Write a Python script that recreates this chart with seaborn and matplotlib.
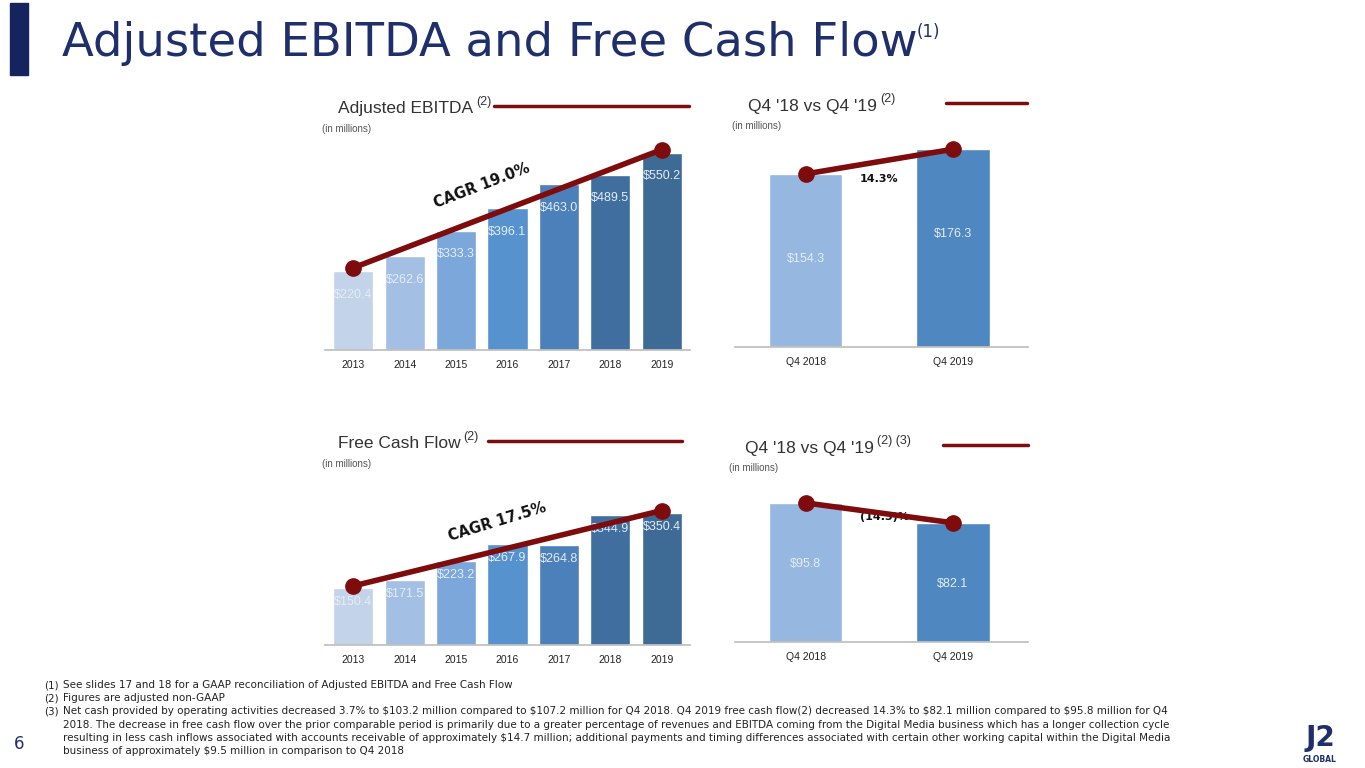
import matplotlib
matplotlib.use("Agg")
import matplotlib.pyplot as plt
import seaborn as sns
from matplotlib.lines import Line2D
from matplotlib.patches import Rectangle

years = ["2013", "2014", "2015", "2016", "2017", "2018", "2019"]
ebitda = [220.4, 262.6, 333.3, 396.1, 463.0, 489.5, 550.2]
fcf = [150.4, 171.5, 223.2, 267.9, 264.8, 344.9, 350.4]
quarters = ["Q4 2018", "Q4 2019"]
q_ebitda = [154.3, 176.3]
q_fcf = [95.8, 82.1]

year_colors = ["#C3D3EA", "#A3C0E4", "#7BA7DA", "#5592CE", "#4C80BA", "#3F6E9F", "#3E6A96"]
q_colors = ["#95B7E0", "#4F87C0"]
red = "#7F0C0C"
navy = "#1F2F6B"

sns.set_theme(style="white")
plt.rcParams["font.family"] = ["DejaVu Sans"]

W, H = 1365, 768
fig = plt.figure(figsize=(13.65, 7.68), dpi=100)


def px_axes(x0, y0, x1, y1):
    return fig.add_axes([x0 / W, 1 - y1 / H, (x1 - x0) / W, (y1 - y0) / H])


def bar_panel(ax, cats, vals, colors, ymax, label_dy, width, xlim, off):
    sns.barplot(x=cats, y=vals, hue=cats, palette=colors, legend=False, ax=ax, width=width, saturation=1)
    ax.set_ylim(0, ymax)
    ax.set_xlim(*xlim)
    ax.set_yticks([])
    ax.set_xlabel("")
    ax.set_ylabel("")
    for s in ["top", "right", "left"]:
        ax.spines[s].set_visible(False)
    ax.spines["bottom"].set_color("#BFBFBF")
    ax.tick_params(axis="x", length=0, labelsize=7.5, pad=7, colors="#222222")
    for lbl in ax.get_xticklabels():
        lbl.set_fontfamily("Liberation Sans")
    for i, v in enumerate(vals):
        ax.text(i, v - ymax * label_dy, f"${v:.1f}", ha="center", va="center",
                color="#E4ECF6", fontsize=9, family="Liberation Sans")
    o = ymax * off
    ax.plot([0, len(vals) - 1], [vals[0] + o, vals[-1] + o], color=red, lw=4,
            marker="o", ms=11, solid_capstyle="round", clip_on=False, zorder=5)


# header
fig.patches.append(Rectangle((10 / W, 1 - 75 / H), 18 / W, 72 / H, transform=fig.transFigure,
                             color="#15245E"))
fig.text(62 / W, 1 - 44 / H, "Adjusted EBITDA and Free Cash Flow", fontsize=33.5, color=navy,
         va="center", ha="left")
fig.text(917 / W, 1 - 32 / H, "(1)", fontsize=12, color=navy, va="center")


def panel_title(x, y, text, sup, x_line0, x_line1, ysup=-7):
    t = fig.text(x / W, 1 - y / H, text, fontsize=12.5, color="#333333", va="center",
                 family="Liberation Sans")
    fig.canvas.draw()
    bb = t.get_window_extent()
    fig.text((bb.x1 + 3) / W, 1 - (y + ysup) / H, sup, fontsize=9, color="#333333", va="center",
             family="Liberation Sans")
    fig.lines.append(Line2D([x_line0 / W, x_line1 / W], [1 - (y - 3) / H] * 2, color=red, lw=2.5,
                            transform=fig.transFigure))
    fig.text(x / W - 16 / W, 1 - (y + 20) / H, "(in millions)", fontsize=7, color="#555555",
             va="center", family="Liberation Sans")


panel_title(338, 109, "Adjusted EBITDA", "(2)", 494, 689)
panel_title(748, 106, "Q4 '18 vs Q4 '19", "(2)", 946, 1027)
panel_title(338, 444, "Free Cash Flow", "(2)", 488, 682)
panel_title(745, 448, "Q4 '18 vs Q4 '19", "(2) (3)", 943, 1028)

left_xlim = (-0.55, 6.55)
right_xlim = (-0.48, 1.51)

ax1 = px_axes(325, 135, 690, 350)
bar_panel(ax1, years, ebitda, year_colors, 600, 0.11, 0.78, left_xlim, 0.015)
ax1.text(2.5, 460, "CAGR 19.0%", rotation=21, fontsize=10.5, fontweight="bold", ha="center",
         va="center", color="#111111")

ax2 = px_axes(735, 135, 1028, 347)
bar_panel(ax2, quarters, q_ebitda, q_colors, 189, 0.4, 0.5, right_xlim, 0)
ax2.text(0.37, 150, f"{(q_ebitda[1] / q_ebitda[0] - 1) * 100:.1f}%", fontsize=8,
         fontweight="bold", ha="left", va="center", color="#111111")

ax3 = px_axes(325, 490, 690, 645)
bar_panel(ax3, years, fcf, year_colors, 411, 0.09, 0.78, left_xlim, 0.015)
ax3.text(2.8, 326, "CAGR 17.5%", rotation=17, fontsize=10.5, fontweight="bold", ha="center",
         va="center", color="#111111")

ax4 = px_axes(735, 490, 1028, 642)
bar_panel(ax4, quarters, q_fcf, q_colors, 104.7, 0.4, 0.5, right_xlim, 0)
ax4.text(0.37, 86, f"({(1 - q_fcf[1] / q_fcf[0]) * 100:.1f})%", fontsize=8, fontweight="bold",
         ha="left", va="center", color="#111111")

# footnotes
notes = [
    ("(1)", "See slides 17 and 18 for a GAAP reconciliation of Adjusted EBITDA and Free Cash Flow"),
    ("(2)", "Figures are adjusted non-GAAP"),
    ("(3)", "Net cash provided by operating activities decreased 3.7% to \\$103.2 million compared to \\$107.2 million for Q4 2018. Q4 2019 free cash flow(2) decreased 14.3% to \\$82.1 million compared to \\$95.8 million for Q4"),
    ("", "2018. The decrease in free cash flow over the prior comparable period is primarily due to a greater percentage of revenues and EBITDA coming from the Digital Media business which has a longer collection cycle"),
    ("", "resulting in less cash inflows associated with accounts receivable of approximately \\$14.7 million; additional payments and timing differences associated with certain other working capital within the Digital Media"),
    ("", "business of approximately \\$9.5 million in comparison to Q4 2018"),
]
for i, (n, t) in enumerate(notes):
    y = 685 + i * 13.2
    fig.text(44 / W, 1 - y / H, n, fontsize=7.5, color="#222222", va="center")
    fig.text(63 / W, 1 - y / H, t, fontsize=7.5, color="#222222", va="center")

fig.text(14 / W, 1 - 744 / H, "6", fontsize=12, color=navy, va="center")
fig.text(1320 / W, 1 - 738 / H, "J2", fontsize=20, fontweight="bold", color=navy, va="center",
         ha="center")
fig.text(1320 / W, 1 - 759 / H, "GLOBAL", fontsize=5.5, fontweight="bold", color=navy,
         va="center", ha="center")

fig.savefig("out.png", dpi=100)
